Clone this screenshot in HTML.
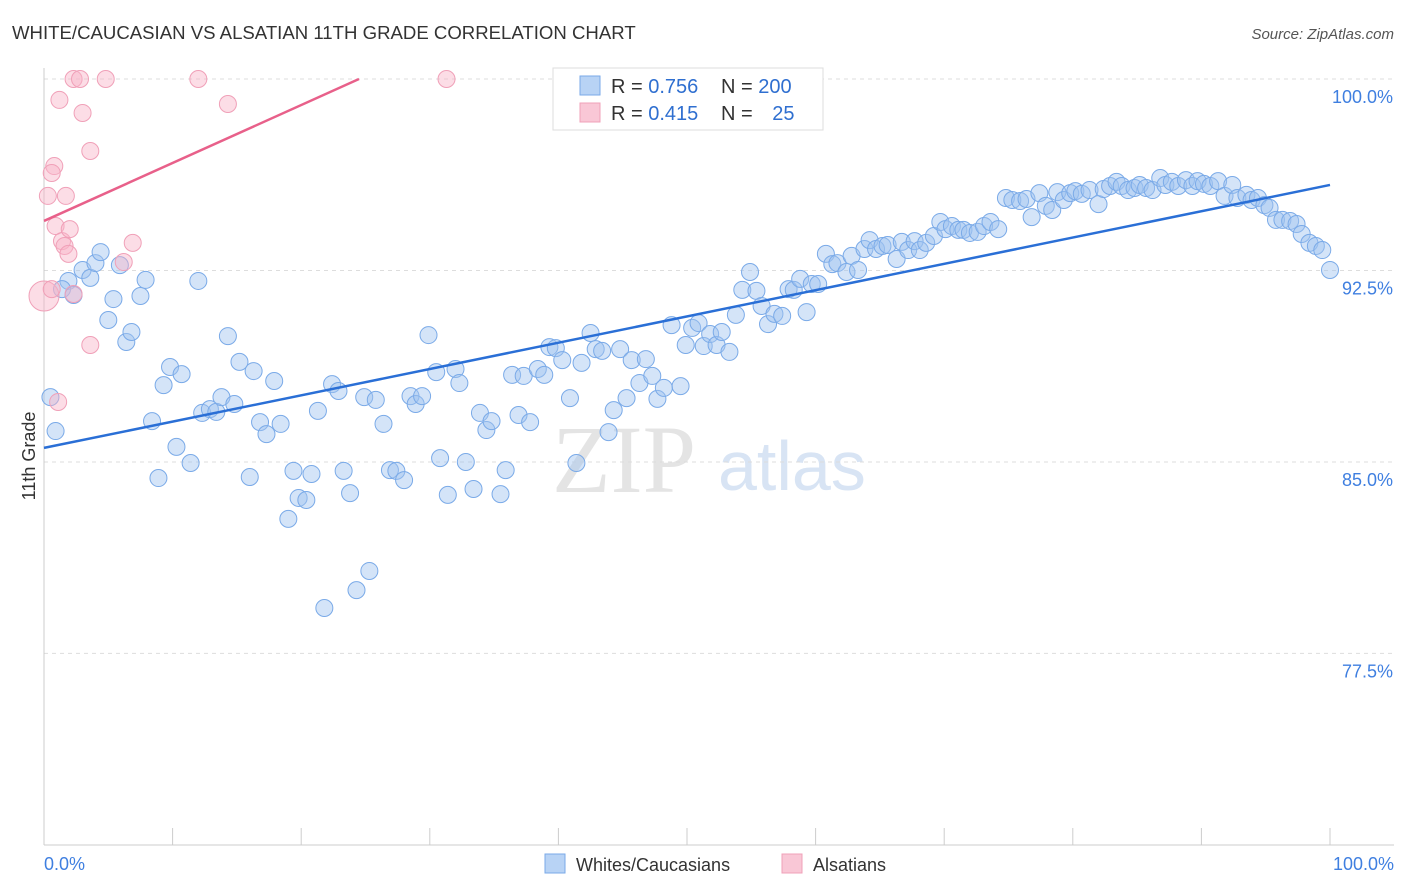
<!DOCTYPE html>
<html><head><meta charset="utf-8"><style>
body{margin:0;background:#fff;font-family:"Liberation Sans",sans-serif}
#c{position:relative;width:1406px;height:892px;overflow:hidden}
</style></head><body>
<div id="c">
<svg id="s" width="1406" height="892" xmlns="http://www.w3.org/2000/svg">
<text x="12" y="39" font-size="18.6" fill="#333">WHITE/CAUCASIAN VS ALSATIAN 11TH GRADE CORRELATION CHART</text>
<text x="1394" y="39" font-size="15" fill="#555" font-style="italic" text-anchor="end">Source: ZipAtlas.com</text>
<text x="35" y="456" font-size="18" fill="#333" text-anchor="middle" transform="rotate(-90 35 456)">11th Grade</text>
<text x="552" y="492" font-size="96" fill="#e4e4e4" font-family="Liberation Serif,serif">ZIP</text>
<text x="718" y="490" font-size="70" fill="#d8e4f4">atlas</text>
<g id="grid"></g><g id="pts"></g><g id="lines"></g>
<g>
<rect x="553" y="68" width="270" height="62" fill="#fff" stroke="#ddd"/>
<rect x="580" y="76" width="20" height="19" fill="#b8d3f5" stroke="#7aaae8"/>
<rect x="580" y="103" width="20" height="19" fill="#f9c7d6" stroke="#f0a0b8"/>
<text x="611" y="93" font-size="20" fill="#333">R = <tspan fill="#2f6fd0">0.756</tspan></text>
<text x="721" y="93" font-size="20" fill="#333">N = <tspan fill="#2f6fd0">200</tspan></text>
<text x="611" y="120" font-size="20" fill="#333">R = <tspan fill="#2f6fd0">0.415</tspan></text>
<text x="721" y="120" font-size="20" fill="#333">N = <tspan fill="#2f6fd0" dx="14">25</tspan></text>
</g>
<g>
<rect x="545" y="854" width="20" height="19" fill="#b8d3f5" stroke="#7aaae8"/>
<text x="576" y="871" font-size="18" fill="#333">Whites/Caucasians</text>
<rect x="782" y="854" width="20" height="19" fill="#f9c7d6" stroke="#f0a0b8"/>
<text x="813" y="871" font-size="18" fill="#333">Alsatians</text>
</g>
</svg></div>
<script>
const yTicks=[100,92.5,85,77.5];
const yTickLabels=["100.0%","92.5%","85.0%","77.5%"];
const xLabels=["0.0%","100.0%"];
const blueX=[0.5,0.9,1.9,1.4,2.3,3.0,3.6,4.0,4.4,5.0,5.4,5.9,6.4,6.8,7.5,7.9,8.4,8.9,9.3,9.8,10.3,10.7,11.4,12.0,12.3,12.9,13.4,13.8,14.3,14.8,15.2,16.0,16.3,16.8,17.3,17.9,18.4,19.0,19.4,19.8,20.4,20.8,21.3,21.8,22.4,22.9,23.3,23.8,24.3,24.9,25.3,25.8,26.4,26.9,27.4,28.0,28.5,28.9,29.4,29.9,30.5,30.8,31.4,32.0,32.3,32.8,33.4,33.9,34.4,34.8,35.5,35.9,36.4,36.9,37.3,37.8,38.4,38.9,39.3,39.8,40.3,40.9,41.4,41.8,42.5,42.9,43.4,43.9,44.3,44.8,45.3,45.7,46.3,46.8,47.3,47.7,48.2,48.8,49.5,49.9,50.4,50.9,51.3,51.8,52.3,52.7,53.3,53.8,54.3,54.9,55.4,55.8,56.3,56.8,57.4,57.9,58.3,58.8,59.3,59.7,60.2,60.8,61.3,61.7,62.4,62.8,63.3,63.8,64.2,64.7,65.2,65.6,66.3,66.7,67.2,67.7,68.1,68.6,69.2,69.7,70.1,70.6,71.1,71.5,72.0,72.6,73.1,73.6,74.2,74.8,75.3,75.9,76.4,76.8,77.4,77.9,78.4,78.8,79.3,79.8,80.2,80.7,81.3,82.0,82.4,82.9,83.4,83.8,84.3,84.8,85.2,85.7,86.2,86.8,87.2,87.7,88.2,88.8,89.3,89.7,90.2,90.7,91.3,91.8,92.4,92.8,93.5,93.9,94.4,94.9,95.3,95.8,96.3,96.9,97.4,97.8,98.4,98.9,99.4,100.0];
const blueY=[87.54,86.21,92.09,91.77,91.54,92.52,92.21,92.79,93.22,90.56,91.38,92.71,89.70,90.09,91.50,92.13,86.60,84.37,88.01,88.72,85.59,88.44,84.96,92.09,86.92,87.07,86.96,87.54,89.93,87.27,88.92,84.41,88.56,86.56,86.09,88.17,86.49,82.77,84.65,83.59,83.51,84.53,87.00,79.28,88.05,87.78,84.65,83.78,79.98,87.54,80.73,87.43,86.49,84.68,84.65,84.29,87.58,87.27,87.58,89.97,88.52,85.15,83.71,88.64,88.09,85.00,83.94,86.92,86.25,86.60,83.74,84.68,88.41,86.84,88.37,86.56,88.64,88.41,89.50,89.46,88.99,87.50,84.96,88.88,90.05,89.42,89.35,86.17,87.03,89.42,87.50,88.99,88.09,89.03,88.37,87.47,87.90,90.36,87.97,89.58,90.25,90.44,89.54,90.01,89.58,90.09,89.31,90.76,91.74,92.44,91.70,91.11,90.40,90.80,90.72,91.77,91.74,92.17,90.87,91.97,91.97,93.15,92.75,92.79,92.44,93.07,92.52,93.34,93.69,93.34,93.46,93.50,92.95,93.62,93.30,93.65,93.30,93.58,93.85,94.40,94.12,94.24,94.09,94.09,93.97,94.01,94.24,94.40,94.12,95.34,95.26,95.22,95.30,94.59,95.53,95.03,94.87,95.57,95.26,95.53,95.61,95.50,95.65,95.10,95.69,95.81,95.97,95.81,95.65,95.73,95.85,95.73,95.65,96.12,95.85,95.97,95.81,96.04,95.81,96.00,95.89,95.81,96.00,95.42,95.85,95.34,95.46,95.26,95.34,95.06,94.95,94.48,94.48,94.44,94.32,93.93,93.58,93.46,93.30,92.52];
const pinkX=[0,0.6,0.9,1.4,1.6,1.7,1.9,2.0,0.8,0.6,0.3,1.2,2.3,2.8,3.0,3.6,3.6,2.3,1.1,4.8,6.2,6.9,12.0,14.3,31.3];
const pinkY=[91.50,91.77,94.24,93.65,93.46,95.42,93.15,94.12,96.59,96.32,95.42,99.18,100,100,98.67,97.18,89.58,91.58,87.35,100,92.83,93.58,100,99.02,100];
const blueTrend=[85.55,95.85];
const pinkTrend=[94.44,0.227];
const X=v=>44+v*12.86, Y=v=>79+(100-v)*25.53;
const NS="http://www.w3.org/2000/svg";
function mk(t,a,p){const e=document.createElementNS(NS,t);for(const k in a)e.setAttribute(k,a[k]);p.appendChild(e);return e;}
const grid=document.getElementById('grid');
yTicks.forEach((t,i)=>{
 const l=mk('line',{x1:44,x2:1394,y1:Y(t),y2:Y(t),stroke:'#ddd','stroke-dasharray':'4 4'},grid);
 
 
 const tx=mk('text',{x:1393,y:Y(t)+24,'font-size':18,fill:'#3f7fe0','text-anchor':'end'},grid);
 tx.textContent=yTickLabels[i];
 
 
});
const ax=mk('line',{x1:44,x2:1394,y1:845,y2:845,stroke:'#ccc'},grid);


const ay=mk('line',{x1:44,x2:44,y1:68,y2:845,stroke:'#ccc'},grid);


for(let i=0;i<=10;i++){const t=mk('line',{x1:X(i*10),x2:X(i*10),y1:828,y2:845,stroke:'#ccc'},grid);
 
 }
[[0,'start',44],[100,'end',1394]].forEach((d,i)=>{const t=mk('text',{x:d[2],y:870,'font-size':18,fill:'#3f7fe0','text-anchor':d[1]},grid);t.textContent=xLabels[i];
 
 });
const pts=document.getElementById('pts');
blueX.forEach((x,i)=>{const c=mk('circle',{cx:X(x),cy:Y(blueY[i]),r:8.5,fill:'rgba(160,196,240,0.45)',stroke:'#7aaae8','stroke-width':1},pts);
 
 });
pinkX.forEach((x,i)=>{const c=mk('circle',{cx:X(x),cy:Y(pinkY[i]),r:i==0?15:8.5,fill:'rgba(248,180,200,0.45)',stroke:'#f0a0b8','stroke-width':1},pts);
 
 });
const lines=document.getElementById('lines');
const bl=mk('line',{x1:X(0),y1:Y(blueTrend[0]),x2:X(100),y2:Y(blueTrend[1]),stroke:'#2a6fd6','stroke-width':2.5},lines);


const px2=(100-pinkTrend[0])/pinkTrend[1];
const pl=mk('line',{x1:X(0),y1:Y(pinkTrend[0]),x2:X(px2),y2:Y(100),stroke:'#e8608a','stroke-width':2.5},lines);


</script>
</body></html>
